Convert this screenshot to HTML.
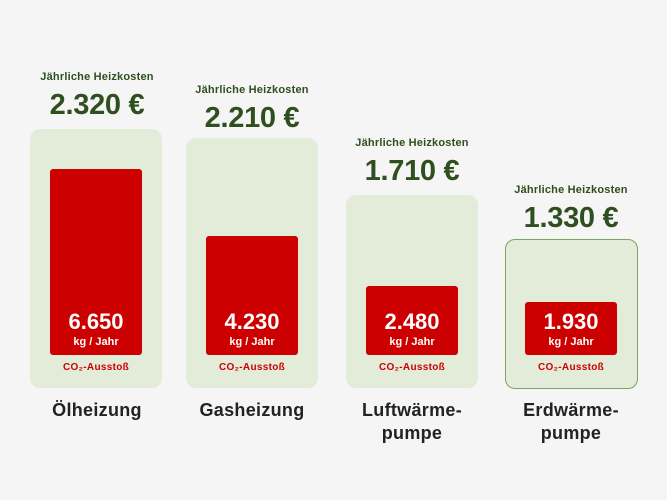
<!DOCTYPE html><html><head><meta charset="utf-8"><style>
body{margin:0;width:667px;height:500px;background:#f5f5f5;font-family:"Liberation Sans",sans-serif;position:relative;overflow:hidden}
.a{position:absolute;text-align:center;font-weight:bold}
.p{position:absolute;background:#e3ecd8;border-radius:10px;box-sizing:border-box}
.r{position:absolute;background:#cc0000;border-radius:3px}
.lab{color:#2f4f1f;font-size:11px;width:160px;letter-spacing:0.2px}
.pr{color:#2f4f1f;font-size:29px;width:160px;letter-spacing:-0.3px}
.v{color:#fff;font-size:22px;width:92px}
.k{color:#fff;font-size:11px;width:92px}
.c{color:#cc0000;font-size:10px;width:132px;letter-spacing:0.3px}
.n{color:#222;font-size:18px;width:160px;line-height:23px;letter-spacing:0.3px}
</style></head><body>
<!-- 1 -->
<div class="a lab" style="left:17px;top:71px">Jährliche Heizkosten</div>
<div class="a pr" style="left:17px;top:89px">2.320 €</div>
<div class="p" style="left:30px;top:129px;width:132px;height:259px"></div>
<div class="r" style="left:50px;top:169px;width:92px;height:186px"></div>
<div class="a v" style="left:50px;top:309px">6.650</div>
<div class="a k" style="left:50px;top:336px">kg / Jahr</div>
<div class="a c" style="left:30px;top:362px">CO₂-Ausstoß</div>
<div class="a n" style="left:17px;top:399px">Ölheizung</div>
<!-- 2 -->
<div class="a lab" style="left:172px;top:84px">Jährliche Heizkosten</div>
<div class="a pr" style="left:172px;top:102px">2.210 €</div>
<div class="p" style="left:186px;top:138px;width:132px;height:250px"></div>
<div class="r" style="left:206px;top:236px;width:92px;height:119px"></div>
<div class="a v" style="left:206px;top:309px">4.230</div>
<div class="a k" style="left:206px;top:336px">kg / Jahr</div>
<div class="a c" style="left:186px;top:362px">CO₂-Ausstoß</div>
<div class="a n" style="left:172px;top:399px">Gasheizung</div>
<!-- 3 -->
<div class="a lab" style="left:332px;top:137px">Jährliche Heizkosten</div>
<div class="a pr" style="left:332px;top:155px">1.710 €</div>
<div class="p" style="left:346px;top:195px;width:132px;height:193px"></div>
<div class="r" style="left:366px;top:286px;width:92px;height:69px"></div>
<div class="a v" style="left:366px;top:309px">2.480</div>
<div class="a k" style="left:366px;top:336px">kg / Jahr</div>
<div class="a c" style="left:346px;top:362px">CO₂-Ausstoß</div>
<div class="a n" style="left:332px;top:399px">Luftwärme-<br>pumpe</div>
<!-- 4 -->
<div class="a lab" style="left:491px;top:184px">Jährliche Heizkosten</div>
<div class="a pr" style="left:491px;top:202px">1.330 €</div>
<div class="p" style="left:505px;top:239px;width:133px;height:150px;border:1px solid #7aa65a"></div>
<div class="r" style="left:525px;top:302px;width:92px;height:53px"></div>
<div class="a v" style="left:525px;top:309px">1.930</div>
<div class="a k" style="left:525px;top:336px">kg / Jahr</div>
<div class="a c" style="left:505px;top:362px">CO₂-Ausstoß</div>
<div class="a n" style="left:491px;top:399px">Erdwärme-<br>pumpe</div>
</body></html>
